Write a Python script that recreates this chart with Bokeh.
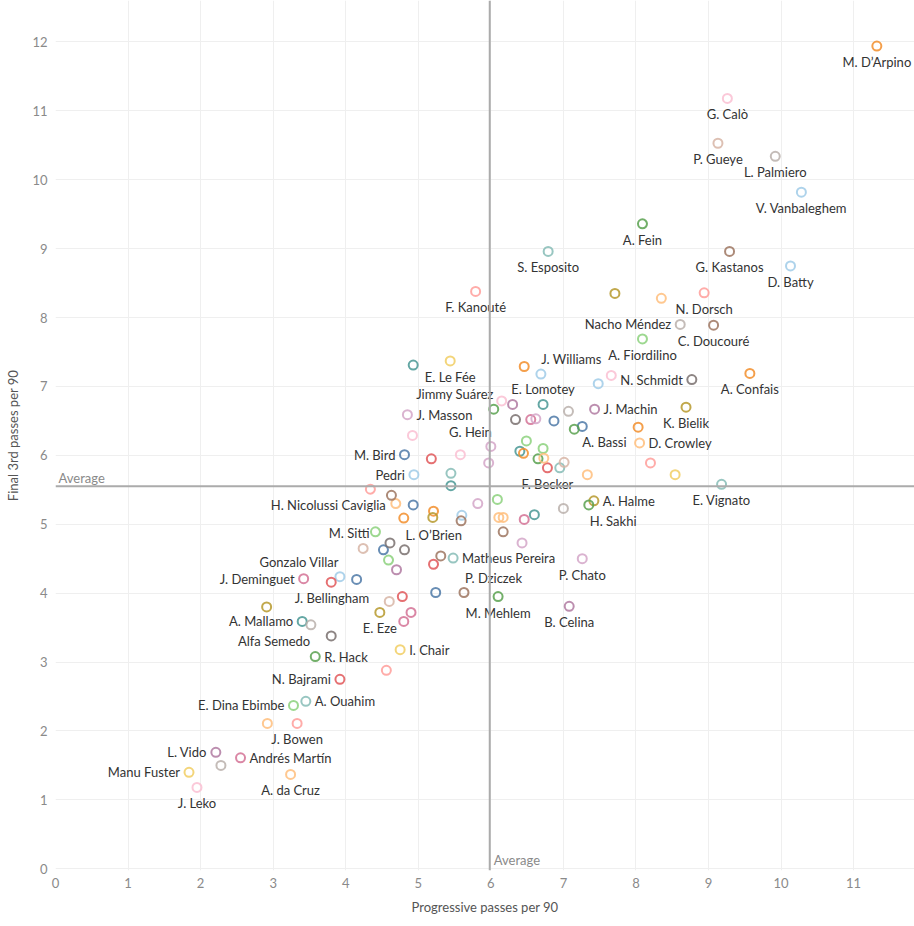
from bokeh.plotting import figure
from bokeh.models import Range1d, FixedTicker, Span, ColumnDataSource
from bokeh.core.properties import value
from bokeh.embed import file_html
from bokeh.resources import INLINE

# ---------------- data ----------------
players = [
    "M. D\u2019Arpino", "G. Cal\u00f2", "P. Gueye", "L. Palmiero", "V. Vanbaleghem",
    "A. Fein", "G. Kastanos", "D. Batty", "S. Esposito", "F. Kanout\u00e9",
    "N. Dorsch", "Nacho M\u00e9ndez", "C. Doucour\u00e9", "A. Fiordilino", "J. Williams",
    "N. Schmidt", "A. Confais", "E. Le F\u00e9e", "E. Lomotey", "Jimmy Su\u00e1rez",
    "J. Masson", "J. Machin", "K. Bielik", "G. Hein", "A. Bassi",
    "D. Crowley", "M. Bird", "Pedri", "F. Becker", "E. Vignato",
    "H. Nicolussi Caviglia", "A. Halme", "H. Sakhi", "M. Sitti", "L. O\u2019Brien",
    "Matheus Pereira", "Gonzalo Villar", "J. Deminguet", "P. Dziczek", "P. Chato",
    "J. Bellingham", "M. Mehlem", "A. Mallamo", "B. Celina", "E. Eze",
    "Alfa Semedo", "I. Chair", "R. Hack", "N. Bajrami", "E. Dina Ebimbe",
    "A. Ouahim", "J. Bowen", "L. Vido", "Andr\u00e9s Mart\u00edn", "Manu Fuster",
    "J. Leko", "A. da Cruz",
] + [""] * 67

prog = [
    11.32, 9.26, 9.13, 9.92, 10.28,
    8.09, 9.29, 10.13, 6.79, 5.79,
    8.94, 8.61, 9.07, 8.09, 6.46,
    8.77, 9.57, 5.44, 6.72, 6.15,
    4.85, 7.43, 8.69, 6.00, 7.26,
    8.05, 4.81, 4.94, 6.78, 9.18,
    4.69, 7.42, 7.35, 4.41, 4.81,
    5.48, 3.92, 3.42, 5.63, 7.26,
    4.60, 6.10, 3.40, 7.08, 4.47,
    3.80, 4.75, 3.58, 3.92, 3.28,
    3.45, 3.33, 2.21, 2.55, 1.84,
    1.95, 3.24,
    # unlabelled
    7.71, 8.35, 7.66, 6.69, 7.48, 8.03, 8.20, 8.54, 6.30, 6.04,
    7.07, 6.34, 6.55, 6.62, 6.87, 7.15, 6.49, 6.72, 6.40, 6.45,
    6.65, 6.73, 6.95, 7.01, 7.33, 5.97, 4.93, 4.92, 5.58, 5.18,
    5.45, 5.45, 4.34, 4.63, 4.93, 4.80, 5.21, 5.20, 5.60, 5.59,
    5.82, 6.09, 6.11, 6.17, 6.46, 6.60, 6.17, 6.43, 7.00, 4.24,
    4.52, 4.61, 4.59, 4.70, 5.31, 5.21, 3.80, 4.15, 5.24, 4.78,
    4.90, 4.80, 3.52, 4.56, 2.91, 2.92, 2.28,
]

final3 = [
    11.94, 11.18, 10.53, 10.34, 9.82,
    9.36, 8.96, 8.75, 8.96, 8.38,
    8.36, 7.90, 7.89, 7.69, 7.29,
    7.10, 7.19, 7.37, 6.74, 6.79,
    6.59, 6.67, 6.70, 6.13, 6.42,
    6.18, 6.01, 5.72, 5.82, 5.58,
    5.30, 5.34, 5.28, 4.89, 4.63,
    4.51, 4.24, 4.21, 4.01, 4.50,
    3.88, 3.95, 3.59, 3.81, 3.72,
    3.38, 3.18, 3.08, 2.75, 2.37,
    2.43, 2.11, 1.69, 1.61, 1.40,
    1.18, 1.37,
    # unlabelled
    8.35, 8.28, 7.16, 7.18, 7.04, 6.41, 5.89, 5.72, 6.74, 6.67,
    6.64, 6.52, 6.52, 6.53, 6.50, 6.38, 6.21, 6.10, 6.06, 6.03,
    5.95, 5.96, 5.82, 5.90, 5.72, 5.89, 7.31, 6.29, 6.01, 5.95,
    5.74, 5.56, 5.51, 5.42, 5.28, 5.09, 5.19, 5.10, 5.13, 5.05,
    5.30, 5.36, 5.10, 5.10, 5.07, 5.14, 4.89, 4.73, 5.23, 4.65,
    4.63, 4.73, 4.48, 4.34, 4.54, 4.42, 4.16, 4.20, 4.01, 3.95,
    3.72, 3.59, 3.54, 2.88, 3.80, 2.11, 1.50,
]

# team index (0-19) per player
team = [
    2, 15, 19, 13, 1,
    4, 18, 1, 9, 11,
    11, 13, 18, 5, 2,
    12, 2, 7, 8, 15,
    17, 16, 6, 17, 0,
    3, 0, 1, 10, 9,
    3, 6, 4, 5, 12,
    9, 1, 14, 18, 17,
    19, 4, 8, 16, 6,
    12, 7, 4, 10, 5,
    9, 11, 16, 14, 7,
    15, 3,
    # unlabelled
    6, 3, 15, 1, 1, 2, 11, 7, 16, 4,
    13, 12, 14, 17, 0, 4, 5, 5, 8, 2,
    4, 3, 9, 19, 3, 17, 8, 15, 15, 10,
    9, 8, 11, 18, 0, 2, 2, 6, 1, 18,
    17, 5, 3, 3, 14, 8, 18, 17, 13, 19,
    0, 12, 5, 16, 18, 10, 10, 0, 0, 10,
    14, 14, 13, 11, 6, 3, 13,
]

avg_prog = 5.985
avg_final3 = 5.553

x_ticks = list(range(0, 12))
y_ticks = list(range(0, 13))

# ---------------- styles ----------------
PALETTE = [
    "#4E79A7", "#A0CBE8", "#F28E2B", "#FFBE7D", "#59A14F",
    "#8CD17D", "#B6992D", "#F1CE63", "#499894", "#86BCB6",
    "#E15759", "#FF9D9A", "#79706E", "#BAB0AC", "#D37295",
    "#FABFD2", "#B07AA1", "#D4A6C8", "#9D7660", "#D7B5A6",
]
FONT = "Lato"
FS = "13px"

MODES = {
    "b": ("center", 0, 16),
    "a": ("center", 0, -15),
    "l": ("right", -9, 0),
    "r": ("left", 9, 0),
}
placement = {
    "J. Williams": ("left", 17, -7),
    "Jimmy Su\u00e1rez": ("right", -8, -7),
    "G. Hein": ("right", 1, -14),
    "A. Bassi": ("left", 0, 16),
    "H. Nicolussi Caviglia": ("right", -10, 1),
    "H. Sakhi": ("left", 1, 16),
    "M. Sitti": ("right", -6, 1),
    "L. O\u2019Brien": ("left", 1, -15),
    "Gonzalo Villar": ("right", -1, -15),
    "P. Dziczek": ("left", 1, -14),
    "J. Bellingham": ("right", -20, -3),
    "Alfa Semedo": ("right", -21, 5),
    "Nacho M\u00e9ndez": "l", "N. Schmidt": "l", "E. Lomotey": "a",
    "J. Masson": "r", "J. Machin": "r", "D. Crowley": "r", "M. Bird": "l",
    "Pedri": "l", "A. Halme": "r", "Matheus Pereira": "r", "J. Deminguet": "l",
    "A. Mallamo": "l", "I. Chair": "r", "R. Hack": "r", "N. Bajrami": "l",
    "E. Dina Ebimbe": "l", "A. Ouahim": "r", "L. Vido": "l",
    "Andr\u00e9s Mart\u00edn": "r", "Manu Fuster": "l",
}

p = figure(
    width=914, height=926,
    x_range=Range1d(0.0, 11.839), y_range=Range1d(-0.025, 12.602),
    output_backend="svg", toolbar_location=None,
    min_border_left=55, min_border_right=0, min_border_top=0, min_border_bottom=56,
)
p.outline_line_color = None
p.background_fill_color = "white"
p.border_fill_color = "white"

for ax in (p.xaxis[0], p.yaxis[0]):
    ax.axis_line_color = None
    ax.major_tick_line_color = None
    ax.minor_tick_line_color = None
    ax.major_tick_in = 0
    ax.major_tick_out = 0
    ax.major_label_text_font = FONT
    ax.major_label_text_font_size = FS
    ax.major_label_text_color = "#8a8a8a"
    ax.axis_label_text_font = FONT
    ax.axis_label_text_font_size = FS
    ax.axis_label_text_font_style = "normal"
    ax.axis_label_text_color = "#555555"

p.xaxis.ticker = FixedTicker(ticks=x_ticks)
p.yaxis.ticker = FixedTicker(ticks=y_ticks)
p.xaxis.axis_label = "Progressive passes per 90"
p.yaxis.axis_label = "Final 3rd passes per 90"
p.xaxis.major_label_standoff = 7
p.yaxis.major_label_standoff = 8
p.xaxis.axis_label_standoff = 8
p.yaxis.axis_label_standoff = 8

p.xgrid.ticker = FixedTicker(ticks=x_ticks)
p.ygrid.ticker = FixedTicker(ticks=y_ticks)
p.grid.grid_line_color = "#efefef"
p.grid.grid_line_width = 1

# average lines
p.add_layout(Span(location=avg_prog, dimension="height", line_color="#ababab", line_width=2))
p.add_layout(Span(location=avg_final3, dimension="width", line_color="#ababab", line_width=2))

# points
colors = [PALETTE[t] for t in team]
src = ColumnDataSource(dict(x=prog, y=final3, c=colors))
p.scatter("x", "y", source=src, marker="circle", size=9, fill_color=None,
          line_color="c", line_width=2, line_alpha=0.85)

# labels
groups = {"left": dict(x=[], y=[], t=[], dx=[], dy=[]),
          "center": dict(x=[], y=[], t=[], dx=[], dy=[]),
          "right": dict(x=[], y=[], t=[], dx=[], dy=[])}
for name, xv, yv in zip(players, prog, final3):
    if not name:
        continue
    spec = placement.get(name, "b")
    if isinstance(spec, str):
        spec = MODES[spec]
    align, dx, dy = spec
    g = groups[align]
    g["x"].append(xv); g["y"].append(yv); g["t"].append(name)
    g["dx"].append(dx); g["dy"].append(dy)

for align, g in groups.items():
    p.text("x", "y", text="t", source=ColumnDataSource(g), x_offset="dx", y_offset="dy",
           text_align=align, text_baseline="middle", text_font=value(FONT),
           text_font_size=FS, text_color="#333333")

# average annotations
p.text(x=[0.0], y=[avg_final3], text=["Average"], x_offset=[3], y_offset=[-8],
       text_align="left", text_baseline="middle", text_font=value(FONT),
       text_font_size=FS, text_color="#8a8a8a")
p.text(x=[avg_prog], y=[-0.025], text=["Average"], x_offset=[4], y_offset=[-11],
       text_align="left", text_baseline="middle", text_font=value(FONT),
       text_font_size=FS, text_color="#8a8a8a")

open("out.html", "w").write(file_html(p, INLINE))
